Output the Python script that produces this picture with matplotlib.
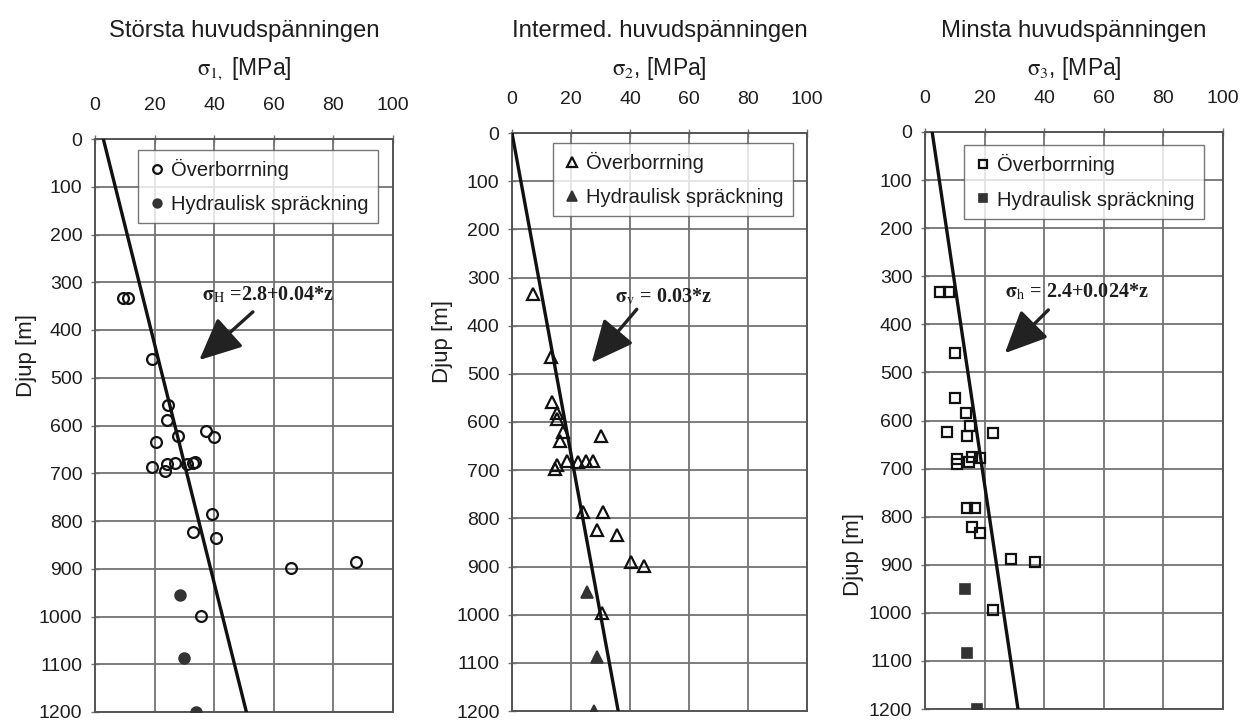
import matplotlib
matplotlib.use("Agg")
import matplotlib.pyplot as plt
import numpy as np

plt.rcParams['font.family'] = ['Liberation Sans', 'DejaVu Sans']

# ---- data: principal stresses [MPa] vs depth [m] ----
# sigma_1 (largest)
over_s1 = [9.5, 11, 19, 24.5, 24, 37.3, 28, 40, 20.5, 19, 23.5, 24, 27, 30.8, 32.8,
           33.5, 39.4, 33, 40.5, 65.8, 87.5, 35.5]
over_z1 = [333, 333, 460, 557, 588, 611, 622, 625, 635, 686, 695, 680, 678, 681, 679,
           676, 785, 824, 835, 898, 885, 998]
hyd_s1 = [28.5, 30, 33.8]
hyd_z1 = [955, 1086, 1200]

# sigma_2 (intermediate)
over_s2 = [7.2, 13.1, 13.5, 15.2, 15.2, 17.4, 16.3, 30.2, 15.2, 14.6, 18.5, 22.5, 25,
           27.6, 24.2, 30.7, 28.7, 35.7, 40.3, 44.9, 30.4]
over_z2 = [335, 466, 559, 582, 594, 621, 639, 630, 690, 697, 682, 683, 682, 680, 787,
           787, 825, 835, 890, 898, 997]
hyd_s2 = [25.5, 28.7, 27.8]
hyd_z2 = [952, 1087, 1200]

# sigma_3 (smallest)
over_s3 = [5, 8, 10, 10, 13.8, 15.1, 7.5, 14.2, 22.7, 10.6, 10.6, 15.7, 18.5, 14.9, 14,
           16.8, 15.7, 18.5, 28.8, 36.9, 22.9]
over_z3 = [332, 332, 460, 554, 585, 611, 623, 632, 625, 681, 691, 675, 679, 686, 781,
           781, 821, 833, 889, 895, 994]
hyd_s3 = [13.4, 14.2, 17.3]
hyd_z3 = [951, 1084, 1199]

# linear trends: sigma = a + b*z
trend_a = [2.8, 0.0, 2.4]
trend_b = [0.04, 0.03, 0.024]
trend_labels = [r"$\mathbf{\sigma}_{\mathrm{H}}$ =2.8+0.04*z",
                r"$\mathbf{\sigma}_{\mathrm{v}}$ = 0.03*z",
                r"$\mathbf{\sigma}_{\mathrm{h}}$ = 2.4+0.024*z"]

titles = ["Största huvudspänningen", "Intermed. huvudspänningen", "Minsta huvudspänningen"]
subtitles = [r"$\mathrm{\sigma}_{\mathrm{1,}}$ [MPa]", r"$\mathrm{\sigma}_{\mathrm{2}}$, [MPa]",
             r"$\mathrm{\sigma}_{\mathrm{3}}$, [MPa]"]
legend_labels = ["Överborrning", "Hydraulisk spräckning"]
x_ticks = [0, 20, 40, 60, 80, 100]
z_ticks = list(range(0, 1300, 100))

over_data = [(over_s1, over_z1), (over_s2, over_z2), (over_s3, over_z3)]
hyd_data = [(hyd_s1, hyd_z1), (hyd_s2, hyd_z2), (hyd_s3, hyd_z3)]
markers = ['o', '^', 's']
msizes = [7.8, 8.5, 7.5]

# ---- layout ----
W, H = 1241, 721
fig = plt.figure(figsize=(W / 100, H / 100), dpi=100)
ax_px = [(95, 393, 139, 712), (512, 807, 133, 711), (925, 1223, 132, 709)]
legend_anchor = [(0.144, 0.981), (0.138, 0.983), (0.131, 0.977)]
label_pos = [(36, 327), (35, 341), (27, 332)]
arrow_tail = [(53, 362), (42.3, 366), (41.4, 370)]
arrow_head = [(35, 463), (27, 477), (26.8, 460)]
ylabel_pos = [(-0.195, 0.623), (-0.2, 0.64), (-0.205, 0.267)]

grid_c = '#737373'
text_c = '#1e1e1e'

for i in range(3):
    x0, x1, y0, y1 = ax_px[i]
    ax = fig.add_axes([x0 / W, 1 - y1 / H, (x1 - x0) / W, (y1 - y0) / H])
    ax.set_xlim(0, 100)
    ax.set_ylim(1200, 0)
    ax.xaxis.tick_top()
    ax.set_xticks(x_ticks)
    ax.set_yticks(z_ticks)
    ax.tick_params(axis='x', direction='inout', length=6, width=1, color=grid_c,
                   labelsize=14, pad=15, labelcolor=text_c)
    ax.tick_params(axis='y', direction='inout', length=6, width=1, color=grid_c,
                   labelsize=14, pad=6, labelcolor=text_c)
    ax.grid(True, color=grid_c, lw=1.3)
    ax.set_axisbelow(True)
    for sp in ax.spines.values():
        sp.set_color('#555555')
        sp.set_linewidth(1.4)

    # trend line
    zz = np.array([0, 1200])
    ax.plot(trend_a[i] + trend_b[i] * zz, zz, color='#111111', lw=2.4, zorder=3)

    s, z = over_data[i]
    ax.plot(s, z, linestyle='none', marker=markers[i], ms=msizes[i], mfc='none',
            mec='#111111', mew=1.6, label=legend_labels[0], zorder=4)
    s, z = hyd_data[i]
    ax.plot(s, z, linestyle='none', marker=markers[i], ms=msizes[i], mfc='#333333',
            mec='#333333', mew=1.2, label=legend_labels[1], zorder=4)

    leg = ax.legend(loc='upper left', bbox_to_anchor=legend_anchor[i], borderaxespad=0,
                    fontsize=14.5, frameon=True, fancybox=False, handletextpad=0.2,
                    handlelength=1.0, labelspacing=0.75, borderpad=0.45,
                    markerscale=0.8, edgecolor='#555555')
    leg.get_frame().set_linewidth(1.0)
    for t in leg.get_texts():
        t.set_color(text_c)

    # trend equation and arrow
    ax.text(label_pos[i][0], label_pos[i][1], trend_labels[i], fontsize=14.5,
            family='Liberation Serif', weight='bold', va='center', ha='left',
            color=text_c, math_fontfamily='stix', zorder=6)
    ax.annotate('', xy=arrow_head[i], xytext=arrow_tail[i],
                arrowprops=dict(arrowstyle='-|>,head_length=1.3,head_width=0.6',
                                lw=2.4, color='#222222', mutation_scale=20,
                                shrinkA=0, shrinkB=0), zorder=6)

    ax.set_ylabel('Djup [m]', fontsize=16, color=text_c)
    ax.yaxis.set_label_coords(*ylabel_pos[i])

    cx = (x0 + x1) / 2 / W
    fig.text(cx, 1 - 31 / H, titles[i], ha='center', va='center', fontsize=17.2,
             color=text_c)
    fig.text(cx, 1 - 69 / H, subtitles[i], ha='center', va='center', fontsize=16.5,
             color=text_c, math_fontfamily='stix')

fig.savefig('out.png', dpi=100, facecolor='white')
